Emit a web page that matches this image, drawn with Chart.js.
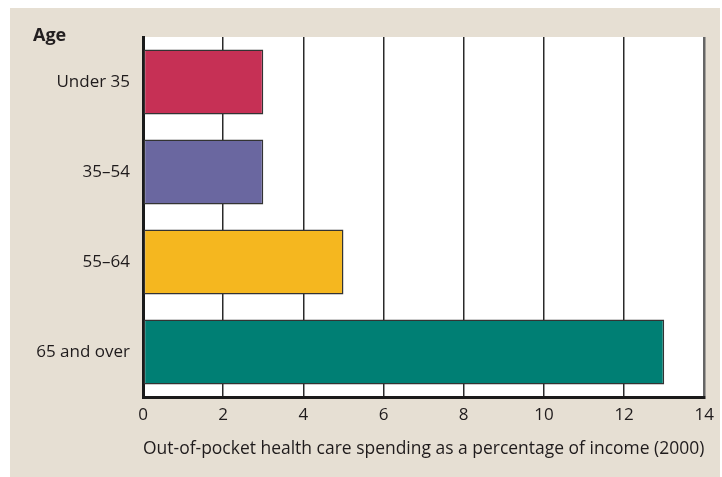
<!DOCTYPE html>
<html>
<head>
<meta charset="utf-8">
<script src="https://cdn.jsdelivr.net/npm/chart.js@4.4.0/dist/chart.umd.min.js"></script>
<style>
  html, body { margin: 0; padding: 0; background: #fff; }
  #wrap { position: relative; width: 722px; height: 477px; overflow: hidden; }
  #panel { position: absolute; left: 10px; top: 8px; width: 710px; height: 469px; background: #e6dfd3; }
  #chart { position: absolute; left: 0; top: 0; }
  #ageLabel {
    position: absolute; left: 33px; top: 22px;
    font: bold 18px "Open Sans", sans-serif; color: #231f20;
  }
</style>
</head>
<body>
<div id="wrap">
  <div id="panel"></div>
  <canvas id="chart" width="722" height="477"></canvas>
  <div id="ageLabel">Age</div>
</div>
<script>
const ageGroups = ['Under 35', '35–54', '55–64', '65 and over'];
const spendingShare = [3, 3, 5, 13];
const barColors = ['#c63055', '#6a67a0', '#f5b71f', '#007f74'];
const xTicks = [0, 2, 4, 6, 8, 10, 12, 14];

const FONT = '"Open Sans", sans-serif';
const TEXT = '#1f1b1c';

// paint the plotting area white before the grid goes on
const plotBackground = {
  id: 'plotBackground',
  beforeDraw(chart) {
    const { ctx, chartArea: a } = chart;
    ctx.save();
    ctx.fillStyle = '#ffffff';
    ctx.fillRect(a.left, a.top, a.right - a.left, a.bottom - a.top);
    ctx.restore();
  }
};

new Chart(document.getElementById('chart'), {
  type: 'bar',
  data: {
    labels: ageGroups,
    datasets: [{
      data: spendingShare,
      backgroundColor: barColors,
      borderColor: '#333333',
      borderWidth: 1.5,
      borderSkipped: false,
      barPercentage: 0.8,
      categoryPercentage: 0.9
    }]
  },
  options: {
    indexAxis: 'y',
    responsive: false,
    animation: false,
    layout: { padding: { left: 0, top: 37, right: 16, bottom: 0 } },
    plugins: {
      legend: { display: false },
      tooltip: { enabled: false }
    },
    scales: {
      x: {
        type: 'linear',
        min: 0,
        max: 14,
        afterBuildTicks(scale) {
          scale.ticks = xTicks.map(v => ({ value: v }));
        },
        afterFit(scale) { scale.height = 80; },
        grid: {
          drawTicks: false,
          color: ctx => ctx.tick && ctx.tick.value === 14 ? '#666666' : '#2a2a2a',
          lineWidth: ctx => ctx.tick && ctx.tick.value === 14 ? 2.5 : 1.5
        },
        border: { display: true, color: '#1a1a1a', width: 3 },
        ticks: {
          padding: 8,
          color: TEXT,
          font: { family: FONT, size: 17 }
        },
        title: {
          display: true,
          text: 'Out-of-pocket health care spending as a percentage of income (2000)',
          color: TEXT,
          font: { family: FONT, size: 17.5 },
          padding: { top: 0, bottom: 17 }
        }
      },
      y: {
        afterFit(scale) { scale.width = 143; },
        grid: { display: false, drawTicks: false },
        border: { display: true, color: '#1a1a1a', width: 3 },
        ticks: {
          padding: 13,
          color: TEXT,
          font: { family: FONT, size: 17 }
        }
      }
    }
  },
  plugins: [plotBackground]
});
</script>
</body>
</html>
